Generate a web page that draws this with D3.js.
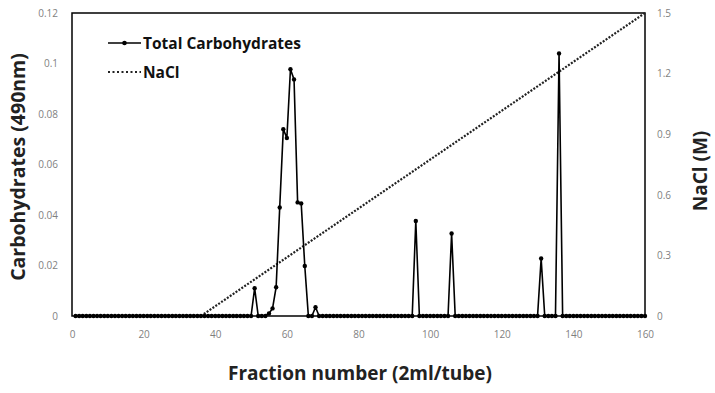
<!DOCTYPE html>
<html><head><meta charset="utf-8">
<script src="https://cdn.jsdelivr.net/npm/d3@7"></script>
<style>body{margin:0;background:#fff}svg{display:block}</style>
</head><body>
<svg id="c" width="715" height="393"></svg>
<script>
// Data
const peakFractions = [51, 55, 56, 57, 58, 59, 60, 61, 62, 63, 64, 65, 68, 96, 106, 131, 136];
const peakValues    = [0.011, 0.001, 0.003, 0.0114, 0.043, 0.074, 0.0705, 0.0977, 0.0937, 0.045, 0.0446, 0.0198, 0.0035, 0.0376, 0.0327, 0.0228, 0.104];
const naclFractions = [36, 160];
const naclValues = [0, 1.5];
const xTicks = [0, 20, 40, 60, 80, 100, 120, 140, 160];
const yLeftTicks = [0, 0.02, 0.04, 0.06, 0.08, 0.1, 0.12];
const yRightTicks = [0, 0.3, 0.6, 0.9, 1.2, 1.5];
const fractionCount = 160;

const carbo = d3.range(1, fractionCount + 1).map(f => {
  const i = peakFractions.indexOf(f);
  return {f, v: i >= 0 ? peakValues[i] : 0};
});

const svg = d3.select('#c');
const L = 72, R = 645, T = 13, B = 316;
const x = d3.scaleLinear().domain([0, 160]).range([L, R]);
const y = d3.scaleLinear().domain([0, 0.12]).range([B, T]);
const y2 = d3.scaleLinear().domain([0, 1.5]).range([B, T]);
const font = "'Open Sans', 'Noto Sans', sans-serif";

// Axes (labels only)
const ax = svg.append('g').attr('transform', `translate(0,${B})`)
  .call(d3.axisBottom(x).tickValues(xTicks).tickSize(0).tickPadding(15).tickFormat(d3.format('d')));
const ay = svg.append('g').attr('transform', `translate(${L},0)`)
  .call(d3.axisLeft(y).tickValues(yLeftTicks).tickSize(0).tickPadding(14).tickFormat(d => d === 0 ? '0' : String(+d.toFixed(2))));
const ay2 = svg.append('g').attr('transform', `translate(${R},0)`)
  .call(d3.axisRight(y2).tickValues(yRightTicks).tickSize(0).tickPadding(12).tickFormat(d => d === 0 ? '0' : String(+d.toFixed(1))));
[ax, ay, ay2].forEach(g => {
  g.select('.domain').remove();
  g.selectAll('text').attr('fill', '#7f7f7f').style('font-family', font).style('font-size', '10px');
});

// Plot border
svg.append('rect').attr('x', L).attr('y', T).attr('width', R - L).attr('height', B - T)
  .attr('fill', 'none').attr('stroke', '#000').attr('stroke-width', 1.5);

// NaCl line
const naclData = naclFractions.map((f, i) => ({f, v: naclValues[i]}));
svg.append('path').datum(naclData)
  .attr('d', d3.line().x(d => x(d.f)).y(d => y2(d.v)))
  .attr('fill', 'none').attr('stroke', '#222').attr('stroke-width', 2.2).attr('stroke-dasharray', '2,1.5');

// Carbohydrate line
svg.append('path').datum(carbo)
  .attr('d', d3.line().x(d => x(d.f)).y(d => y(d.v)))
  .attr('fill', 'none').attr('stroke', '#000').attr('stroke-width', 1.6);
svg.append('g').selectAll('circle').data(carbo).join('circle')
  .attr('cx', d => x(d.f)).attr('cy', d => y(d.v)).attr('r', 2.2).attr('fill', '#000');

// Legend
const lg = svg.append('g');
lg.append('line').attr('x1', 108).attr('x2', 141).attr('y1', 43).attr('y2', 43).attr('stroke', '#000').attr('stroke-width', 1.6);
lg.append('circle').attr('cx', 124.5).attr('cy', 43).attr('r', 2.3).attr('fill', '#000');
lg.append('text').attr('x', 143).attr('y', 48.5).text('Total Carbohydrates')
  .style('font-family', font).style('font-size', '15.5px').style('font-weight', 'bold').attr('fill', '#111');
lg.append('line').attr('x1', 108).attr('x2', 141).attr('y1', 72).attr('y2', 72).attr('stroke', '#222').attr('stroke-width', 2.2).attr('stroke-dasharray', '2,2.5');
lg.append('text').attr('x', 143).attr('y', 77.5).text('NaCl')
  .style('font-family', font).style('font-size', '15.5px').style('font-weight', 'bold').attr('fill', '#111');

// Axis titles
svg.append('text').attr('transform', `translate(25,167) rotate(-90)`).attr('text-anchor', 'middle')
  .text('Carbohydrates (490nm)').style('font-family', font).style('font-size', '19.5px').style('font-weight', 'bold').attr('fill', '#222');
svg.append('text').attr('transform', `translate(707,171) rotate(-90)`).attr('text-anchor', 'middle')
  .text('NaCl (M)').style('font-family', font).style('font-size', '19px').style('font-weight', 'bold').attr('fill', '#222');
svg.append('text').attr('x', 360).attr('y', 380).attr('text-anchor', 'middle')
  .text('Fraction number (2ml/tube)').style('font-family', font).style('font-size', '19px').style('font-weight', 'bold').attr('fill', '#222');
</script>
</body></html>
